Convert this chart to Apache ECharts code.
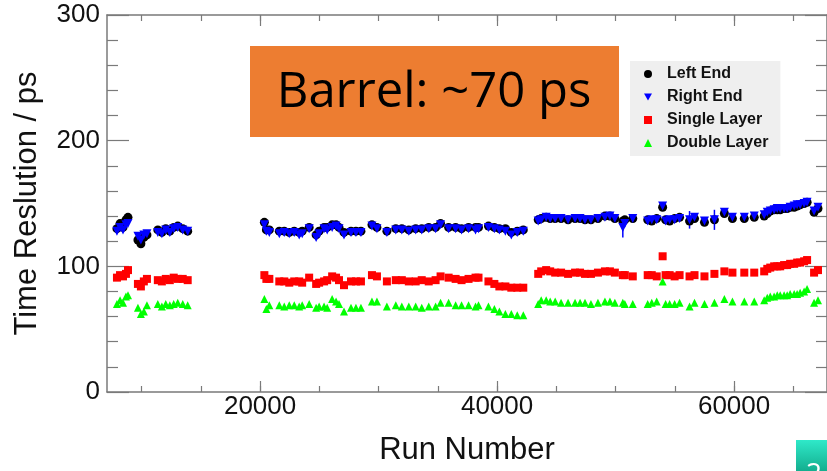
<!DOCTYPE html>
<html>
<head>
<meta charset="utf-8">
<script src="https://cdn.jsdelivr.net/npm/echarts@6/dist/echarts.min.js"></script>
<style>
  html, body { margin: 0; padding: 0; background: #fff; }
  #chart { width: 827px; height: 471px; }
</style>
</head>
<body>
<div id="chart"></div>
<script>
// Run numbers of the calibration points
const runs = [
  7920, 8180, 8430, 8680, 8850, 9690, 9940, 10190, 10450, 11370, 11710, 12040, 12380, 12710, 13050, 13470, 13890,
  20360, 20530, 20780, 21620, 22040, 22460, 22880, 23300, 23550, 24140, 24730, 24980, 25400, 25660, 26080, 26410, 26660, 27080, 27670, 28090, 28510,
  29440, 29860, 30700, 31450, 31960, 32550, 33130, 33640, 34230, 34810, 35230, 35910, 36500, 37000, 37590, 38180, 38430,
  39270, 39770, 40190, 40700, 41200, 41700, 42210,
  43470, 43720, 44140, 44480, 44900, 45400, 45990, 46580, 47000, 47420, 47920, 48510, 49100, 49520, 49940, 50610, 50780, 51450,
  52710, 53050, 53470, 53970, 54220, 54560, 54980, 55400,
  56240, 56660, 57500, 58340,
  59180, 59860, 60860, 61700,
  62540, 62800, 63050, 63380, 63640, 63890, 64220, 64480, 64730, 65070, 65320, 65570, 65910, 66160,
  66750, 67080
];

// Time resolution (ps) per run
const leftEnd = [
  130, 134, 131, 137, 139, 121, 118, 123, 125, 129, 127, 130, 128, 131, 132, 130, 128,
  135, 129, 129, 128, 128, 127, 128, 127, 128, 131, 125, 128, 131, 131, 133, 133, 131, 127, 128, 128, 128,
  133, 131, 128, 130, 130, 129, 130, 130, 131, 131, 134, 131, 131, 130, 131, 131, 131,
  132, 131, 130, 130, 127, 128, 129,
  137, 138, 139, 138, 138, 138, 137, 138, 138, 137, 137, 138, 140, 140, 138, 136, 137, 138,
  137, 136, 138, 147, 137, 136, 138, 139,
  136, 138, 135, 137,
  142, 138, 138, 139,
  140, 142, 144, 145, 145, 145, 146, 146, 147, 147, 148, 149, 150, 151,
  143, 146
];
const rightEnd = [
  128, 131, 129, 133, 134, 124, 121, 125, 126, 127, 126, 129, 127, 130, 131, 129, 128,
  133, 128, 127, 126, 127, 126, 127, 125, 126, 130, 123, 126, 130, 129, 131, 132, 130, 125, 127, 127, 127,
  132, 130, 127, 129, 129, 128, 129, 129, 130, 130, 133, 130, 130, 129, 130, 129, 130,
  131, 130, 129, 128, 125, 127, 128,
  136, 137, 139, 138, 138, 138, 137, 138, 138, 137, 137, 138, 139, 140, 138, 131, 134, 138,
  136, 137, 137, 148, 136, 137, 137, 138,
  137, 139, 136, 137,
  143, 139, 139, 140,
  141, 143, 144, 145, 146, 146, 146, 146, 147, 148, 149, 149, 150, 151,
  144, 147
];
const singleLayer = [
  91, 93, 92, 94, 97, 86, 84, 88, 90, 89, 88, 90, 89, 91, 90, 90, 89,
  93, 90, 90, 88, 88, 87, 88, 88, 87, 91, 86, 87, 88, 89, 92, 91, 89, 85, 88, 88, 88,
  93, 92, 88, 89, 89, 88, 88, 89, 88, 89, 92, 91, 90, 89, 90, 91, 91,
  88, 86, 84, 84, 83, 83, 83,
  94, 96, 97, 96, 95, 95, 94, 95, 95, 94, 94, 95, 96, 96, 95, 93, 93, 92,
  93, 93, 92, 108, 93, 93, 92, 93,
  92, 93, 92, 94,
  96, 95, 95, 95,
  96, 98, 99, 100, 100, 100, 101, 101, 102, 102, 103, 103, 104, 105,
  95, 97
];
const doubleLayer = [
  70, 73, 71, 76, 77, 67, 62, 64, 69, 70, 68, 70, 69, 70, 71, 70, 69,
  74, 66, 69, 69, 68, 69, 69, 68, 69, 70, 67, 68, 68, 67, 74, 72, 70, 64, 67, 67, 67,
  72, 72, 68, 69, 68, 68, 68, 67, 68, 68, 71, 71, 69, 69, 69, 68, 69,
  68, 66, 64, 62, 62, 61, 61,
  70, 73, 73, 72, 72, 71, 71, 71, 71, 71, 70, 71, 72, 72, 71, 71, 70, 70,
  70, 71, 72, 88, 70, 70, 70, 71,
  68, 71, 70, 71,
  74, 72, 72, 72,
  73, 75, 76, 76, 77, 77, 77, 77, 78, 78, 78, 79, 80, 82,
  71, 73
];

// Uncertainties on a few Right End / Left End points: [run, error]
const rightEndErrors = [[50610, 8], [56240, 7], [58340, 8], [53970, 3]];
const leftEndErrors = [[8680, 3]];

// Axis ranges and ticks
const runMin = 7080;
const runMax = 67840;
const runMajorTicks = [20000, 40000, 60000];
const runMinorTicks = [10000, 15000, 20000, 25000, 30000, 35000, 40000, 45000, 50000, 55000, 60000, 65000];

const seriesNames = ['Left End', 'Right End', 'Single Layer', 'Double Layer'];

const pair = (vals) => runs.map((r, i) => [r, vals[i]]);
const errData = (errs, vals) => errs.map(([r, e]) => {
  const v = vals[runs.indexOf(r)];
  return [r, v - e, v + e];
});

const AXIS_COLOR = '#7a7a7a';
const FONT = "'Liberation Sans', Arial, Helvetica, sans-serif";
const DOWN_TRIANGLE = 'path://M0,0 L10,0 L5,9 Z';

const baseX = {
  type: 'value', min: runMin, max: runMax, gridIndex: 0,
  splitLine: { show: false }
};
const xAxes = [
  Object.assign({}, baseX, {
    position: 'bottom',
    name: 'Run Number', nameLocation: 'middle', nameGap: 43,
    nameTextStyle: { fontSize: 31, color: '#111', fontFamily: FONT },
    axisLine: { show: true, lineStyle: { color: AXIS_COLOR, width: 1.5 } },
    axisTick: { show: true, inside: true, length: 11, customValues: runMajorTicks, lineStyle: { color: AXIS_COLOR, width: 1.2 } },
    axisLabel: { show: true, customValues: runMajorTicks, formatter: (v) => String(v), fontSize: 26, color: '#111', fontFamily: FONT, margin: 2 }
  }),
  Object.assign({}, baseX, {
    position: 'bottom',
    axisLine: { show: false },
    axisTick: { show: true, inside: true, length: 6, customValues: runMinorTicks, lineStyle: { color: AXIS_COLOR, width: 1.2 } },
    axisLabel: { show: false }
  }),
  Object.assign({}, baseX, {
    position: 'top',
    axisLine: { show: true, lineStyle: { color: AXIS_COLOR, width: 1.5 } },
    axisTick: { show: true, inside: true, length: 11, customValues: runMajorTicks, lineStyle: { color: AXIS_COLOR, width: 1.2 } },
    axisLabel: { show: false }
  }),
  Object.assign({}, baseX, {
    position: 'top',
    axisLine: { show: false },
    axisTick: { show: true, inside: true, length: 6, customValues: runMinorTicks, lineStyle: { color: AXIS_COLOR, width: 1.2 } },
    axisLabel: { show: false }
  })
];

const baseY = {
  type: 'value', min: 0, max: 300, interval: 100, gridIndex: 0,
  splitLine: { show: false },
  axisLine: { show: true, lineStyle: { color: AXIS_COLOR, width: 1.5 } },
  axisTick: { show: true, inside: true, length: 22, lineStyle: { color: AXIS_COLOR, width: 1.2 } },
  minorTick: { show: true, splitNumber: 5, length: 11, lineStyle: { color: AXIS_COLOR, width: 1.2 } }
};
const yAxes = [
  Object.assign({}, baseY, {
    position: 'left',
    name: 'Time Reslution / ps', nameLocation: 'middle', nameGap: 64,
    nameTextStyle: { fontSize: 31, color: '#111', fontFamily: FONT },
    axisLabel: { show: true, fontSize: 26, color: '#111', fontFamily: FONT, margin: 7 }
  }),
  Object.assign({}, baseY, {
    position: 'right',
    axisLabel: { show: false }
  })
];

const errorSeries = (name, errs, vals, color) => ({
  type: 'custom',
  name: name + ' err',
  xAxisIndex: 0, yAxisIndex: 0,
  silent: true,
  z: 1,
  data: errData(errs, vals),
  renderItem: (params, api) => {
    const lo = api.coord([api.value(0), api.value(1)]);
    const hi = api.coord([api.value(0), api.value(2)]);
    return {
      type: 'line',
      shape: { x1: lo[0], y1: lo[1], x2: hi[0], y2: hi[1] },
      style: { stroke: color, lineWidth: 1.5 }
    };
  }
});

const chart = echarts.init(document.getElementById('chart'), null, { renderer: 'canvas' });
chart.setOption({
  animation: false,
  backgroundColor: '#ffffff',
  grid: { left: 107, top: 15, right: -3, bottom: 76, containLabel: false },
  xAxis: xAxes,
  yAxis: yAxes,
  legend: {
    orient: 'vertical',
    left: 630, top: 61,
    padding: [5, 12, 5, 14],
    itemGap: 7,
    itemWidth: 8, itemHeight: 8,
    backgroundColor: '#efefef',
    borderWidth: 0,
    data: [
      { name: 'Left End', icon: 'circle' },
      { name: 'Right End', icon: DOWN_TRIANGLE },
      { name: 'Single Layer', icon: 'rect' },
      { name: 'Double Layer', icon: 'triangle' }
    ],
    textStyle: { fontSize: 16, fontWeight: 'bold', color: '#111', fontFamily: FONT, padding: [0, 0, 0, 10] }
  },
  graphic: [
    {
      type: 'group', left: 250, top: 46, z: 10,
      children: [
        { type: 'rect', shape: { x: 0, y: 0, width: 369, height: 91 }, style: { fill: '#ED7D31' } },
        { type: 'text', x: 184, y: 47, style: { text: 'Barrel: ~70 ps', fill: '#000', font: "49px 'Open Sans', 'Noto Sans', sans-serif", textAlign: 'center', textVerticalAlign: 'middle' } }
      ]
    },
    {
      type: 'group', left: 796, top: 440, z: 10,
      children: [
        { type: 'rect', shape: { x: 0, y: 0, width: 40, height: 40 },
          style: { fill: new echarts.graphic.LinearGradient(0, 0, 0, 1, [
            { offset: 0, color: '#2fe9c9' }, { offset: 1, color: '#0b9d7e' }]) } },
        { type: 'text', x: 10, y: 21, style: { text: '2', fill: '#ffffff', font: "28px 'Open Sans', sans-serif", textVerticalAlign: 'top' } }
      ]
    }
  ],
  series: [
    errorSeries('Left End', leftEndErrors, leftEnd, '#000000'),
    errorSeries('Right End', rightEndErrors, rightEnd, '#0000ff'),
    {
      name: 'Left End', type: 'scatter', xAxisIndex: 0, yAxisIndex: 0, z: 2,
      symbol: 'circle', symbolSize: 9,
      itemStyle: { color: '#000000', opacity: 1 },
      data: pair(leftEnd)
    },
    {
      name: 'Right End', type: 'scatter', xAxisIndex: 0, yAxisIndex: 0, z: 3,
      symbol: 'triangle', symbolRotate: 180, symbolSize: 9,
      itemStyle: { color: '#0000ff', opacity: 1 },
      data: pair(rightEnd)
    },
    {
      name: 'Single Layer', type: 'scatter', xAxisIndex: 0, yAxisIndex: 0, z: 3,
      symbol: 'rect', symbolSize: 8,
      itemStyle: { color: '#ff0000', opacity: 1 },
      data: pair(singleLayer)
    },
    {
      name: 'Double Layer', type: 'scatter', xAxisIndex: 0, yAxisIndex: 0, z: 3,
      symbol: 'triangle', symbolSize: 8,
      itemStyle: { color: '#00ff00', opacity: 1 },
      data: pair(doubleLayer)
    }
  ]
});
</script>
</body>
</html>
